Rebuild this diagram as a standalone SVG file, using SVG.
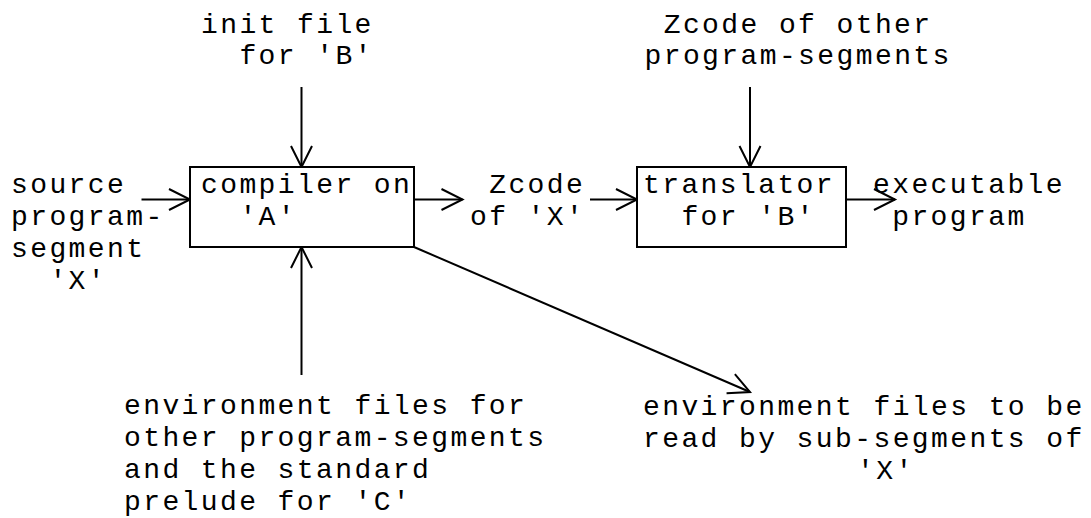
<svg xmlns="http://www.w3.org/2000/svg" width="1091" height="518" viewBox="0 0 1091 518">
<style>
text{font-family:"Liberation Mono","Courier New",monospace;font-size:28px;letter-spacing:2.4px;fill:#000;white-space:pre}
.box{fill:#fff;stroke:#000;stroke-width:2}
.ln{fill:none;stroke:#000;stroke-width:2}
</style>
<defs>
<marker id="arr" markerUnits="userSpaceOnUse" refX="0" refY="0" markerWidth="40" markerHeight="40" orient="auto" overflow="visible">
<path d="M-21,-10.5 L0,0 L-21,10.5" fill="none" stroke="#000" stroke-width="2"/>
</marker>
</defs>
<rect width="1091" height="518" fill="#fff"/>
<g id="connectors">
<line class="ln" x1="301.5" y1="87" x2="301.5" y2="167" marker-end="url(#arr)"/>
<line class="ln" x1="750" y1="87" x2="750" y2="167" marker-end="url(#arr)"/>
<line class="ln" x1="141.5" y1="199.5" x2="190" y2="199.5" marker-end="url(#arr)"/>
<line class="ln" x1="414" y1="199.5" x2="462.5" y2="199.5" marker-end="url(#arr)"/>
<line class="ln" x1="590" y1="199.5" x2="637" y2="199.5" marker-end="url(#arr)"/>
<line class="ln" x1="846" y1="199.5" x2="895" y2="199.5" marker-end="url(#arr)"/>
<line class="ln" x1="301.5" y1="375" x2="301.5" y2="247" marker-end="url(#arr)"/>
<line class="ln" x1="414" y1="247" x2="750" y2="392" marker-end="url(#arr)"/>
</g>
<g id="compiler">
<rect class="box" x="190" y="167" width="224" height="80"/>
<text x="201" y="193">compiler on</text>
<text x="239.4" y="225">'A'</text>
</g>
<g id="translator">
<rect class="box" x="637" y="167" width="209" height="80"/>
<text x="643" y="193">translator</text>
<text x="681.4" y="225">for 'B'</text>
</g>
<g id="init-file">
<text x="201" y="33">init file</text>
<text x="239.4" y="64">for 'B'</text>
</g>
<g id="zcode-other">
<text x="663.7" y="33">Zcode of other</text>
<text x="644.5" y="64">program-segments</text>
</g>
<g id="source">
<text x="11" y="193">source</text>
<text x="11" y="225">program-</text>
<text x="11" y="257">segment</text>
<text x="49.4" y="289">'X'</text>
</g>
<g id="zcode-x">
<text x="489.2" y="193">Zcode</text>
<text x="470" y="225">of 'X'</text>
</g>
<g id="executable">
<text x="873" y="193">executable</text>
<text x="892.2" y="225">program</text>
</g>
<g id="env-in">
<text x="124" y="414">environment files for</text>
<text x="124" y="446">other program-segments</text>
<text x="124" y="478">and the standard</text>
<text x="124" y="509.5">prelude for 'C'</text>
</g>
<g id="env-out">
<text x="643" y="415">environment files to be</text>
<text x="643" y="447">read by sub-segments of</text>
<text x="857" y="479">'X'</text>
</g>
</svg>
